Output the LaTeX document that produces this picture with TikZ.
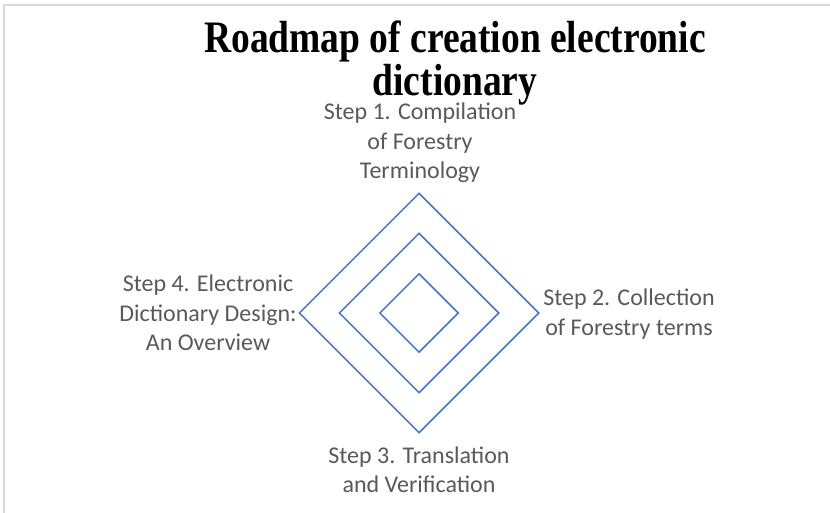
\documentclass[tikz,border=0pt]{standalone}
\usepackage{fontspec}
\setmainfont{Liberation Serif}
\newfontfamily\labelfont{Carlito}
\usetikzlibrary{shapes.geometric}
\definecolor{diamondblue}{HTML}{4472C4}
\definecolor{labelgray}{HTML}{595959}
\definecolor{framegray}{HTML}{D9D9D9}
\tikzset{
  ring/.style={shape=diamond, draw=diamondblue, line width=1.5pt, inner sep=0pt, aspect=1},
  steplabel/.style={font=\labelfont\fontsize{24}{29.3}\selectfont, text=labelgray, align=center, inner sep=0pt},
  titlelabel/.style={font=\bfseries\fontsize{37.5}{32}\selectfont, text=black, inner sep=0pt}
}
\begin{document}
\begin{tikzpicture}[x=1pt,y=-1pt]
\useasboundingbox (0,0) rectangle (830,513);
\draw[framegray, line width=2pt] (4,513) -- (4,5) -- (830,5);
\node[titlelabel] (title) at (455,64) {\scalebox{1}[1.2]{\begin{tabular}{@{}c@{}}Roadmap of creation electronic\\dictionary\hspace{10pt}\end{tabular}}};
\node[ring, minimum width=240pt, minimum height=240pt] (outer) at (419,313) {};
\node[ring, minimum width=160pt, minimum height=160pt] (middle) at (419,313) {};
\node[ring, minimum width=79pt, minimum height=79pt] (inner) at (419,313) {};
\node[steplabel] (s1) at (420,143) {Step 1. Compilation\\of Forestry\\Terminology};
\node[steplabel] (s2) at (629,314) {Step 2. Collection\\of Forestry terms};
\node[steplabel] (s3) at (419,470) {Step 3. Translation\\and Verification};
\node[steplabel] (s4) at (208,313) {Step 4. Electronic\\Dictionary Design:\\An Overview};
\end{tikzpicture}
\end{document}
